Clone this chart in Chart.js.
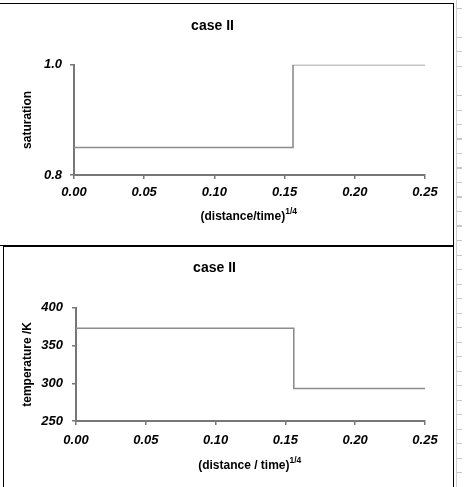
<!DOCTYPE html>
<html>
<head>
<meta charset="utf-8">
<script src="https://cdn.jsdelivr.net/npm/chart.js@4/dist/chart.umd.min.js"></script>
<style>
  html, body { margin: 0; padding: 0; background: #fff; }
  body { width: 466px; height: 487px; position: relative; overflow: hidden; }
  .box { position: absolute; border: 1px solid #000; background: #fff; }
  .box canvas { display: block; }
  #box1 { left: -1px; top: 3px; width: 453px; height: 241px; }
  #box2 { left: 3px; top: 246px; width: 449px; height: 245px; }
  #ruler { position: absolute; left: 456px; top: 0; width: 5px; height: 487px;
    border-left: 1px solid #d0d0d0;
    background: repeating-linear-gradient(to bottom, transparent 0, transparent 8px, #c8c8c8 8px, #c8c8c8 9px, transparent 9px, transparent 14.5px); }
</style>
</head>
<body>
<div id="box1" class="box"><canvas id="c1" width="453" height="241"></canvas></div>
<div id="box2" class="box"><canvas id="c2" width="449" height="245"></canvas></div>
<div id="ruler"></div>
<script>
// ---- data ----
const chartTitle = "case II";
const xTickValues = [0, 0.05, 0.10, 0.15, 0.20, 0.25];

// saturation profile (step points, horizontal first then vertical)
const satX = [0.0, 0.156, 0.25];
const satY = [0.85, 1.0, 1.0];
const satTicks = [0.8, 1.0];
const satLabel = "saturation";
const satXLabel = "(distance/time)";

// temperature profile
const tempX = [0.0, 0.156, 0.25];
const tempY = [373, 293, 293];
const tempTicks = [250, 300, 350, 400];
const tempLabel = "temperature /K";
const tempXLabel = "(distance / time)";

const xSuper = "1/4";

// ---- rendering ----
const AXIS = '#777777';
const LINE = '#8c8c8c';
const FONT = "'Liberation Sans', Arial, sans-serif";

const superPlugin = {
  id: 'superPlugin',
  afterDraw(chart) {
    const xs = chart.scales.x;
    const t = xs.options.title;
    const ctx = chart.ctx;
    ctx.save();
    ctx.font = "bold 12px " + FONT;
    const full = ctx.measureText(t.text).width;
    const trimmed = ctx.measureText(t.text.trimEnd()).width;
    const cx = (xs.left + xs.right) / 2;
    const endX = cx - full / 2 + trimmed;
    const cy = xs.bottom - 7.2 - t.padding.bottom;
    ctx.font = "bold 8.5px " + FONT;
    ctx.fillStyle = '#000';
    ctx.textAlign = 'left';
    ctx.textBaseline = 'middle';
    ctx.fillText(xSuper, endX, cy - 5);
    ctx.restore();
  }
};

function makeChart(id, xs, ys, yTicks, yLabel, xLabel, L) {
  const pts = xs.map((x, i) => ({ x: x, y: ys[i] }));
  return new Chart(document.getElementById(id), {
    type: 'line',
    data: { datasets: [{ data: pts, stepped: true, borderColor: LINE, borderWidth: 1.6,
      pointRadius: 0, fill: false, tension: 0 }] },
    options: {
      responsive: false, animation: false,
      layout: { padding: { left: 0, right: L.right, top: 0, bottom: 0 } },
      plugins: {
        legend: { display: false }, tooltip: { enabled: false },
        title: { display: true, text: chartTitle, color: '#000',
          font: { family: FONT, size: 14, weight: 'bold' },
          padding: { top: L.tTop, bottom: L.tBot } },
      },
      scales: {
        x: {
          type: 'linear', min: 0, max: 0.25,
          afterBuildTicks: s => { s.ticks = xTickValues.map(v => ({ value: v })); },
          afterFit: s => { s.height = L.xH; },
          ticks: { color: '#000', padding: L.xPad, maxRotation: 0,
            font: { family: FONT, size: 13, weight: 'bold', style: 'italic' },
            callback: v => Number(v).toFixed(2) },
          grid: { drawOnChartArea: false, drawTicks: true, tickLength: 4, color: AXIS, lineWidth: 1.5 },
          border: { display: true, color: AXIS, width: 2 },
          title: { display: true, text: xLabel + "    ", color: '#000',
            font: { family: FONT, size: 12, weight: 'bold' },
            padding: { top: 0, bottom: L.xtPad } }
        },
        y: {
          type: 'linear', min: yTicks[0], max: yTicks[yTicks.length - 1],
          afterBuildTicks: s => { s.ticks = yTicks.map(v => ({ value: v })); },
          afterFit: s => { s.width = L.yW; },
          ticks: { color: '#000', padding: L.yPad,
            font: { family: FONT, size: 13, weight: 'bold', style: 'italic' },
            callback: v => (yTicks[0] < 10 ? Number(v).toFixed(1) : String(v)) },
          grid: { drawOnChartArea: false, drawTicks: true, tickLength: 4, color: AXIS, lineWidth: 1.5 },
          border: { display: true, color: AXIS, width: 2 },
          title: { display: true, text: yLabel, color: '#000',
            font: { family: FONT, size: 12, weight: 'bold' },
            padding: { top: L.ytPad, bottom: 0 } }
        }
      }
    },
    plugins: [superPlugin]
  });
}

makeChart('c1', satX, satY, satTicks, satLabel, satXLabel,
  { right: 28, tTop: 13.5, tBot: 30.5, xH: 70, xPad: 6, xtPad: 21, yW: 74, yPad: 8, ytPad: 20 });
makeChart('c2', tempX, tempY, tempTicks, tempLabel, tempXLabel,
  { right: 28, tTop: 12.5, tBot: 31.5, xH: 71, xPad: 8, xtPad: 19, yW: 72, yPad: 9, ytPad: 16 });
</script>
</body>
</html>
